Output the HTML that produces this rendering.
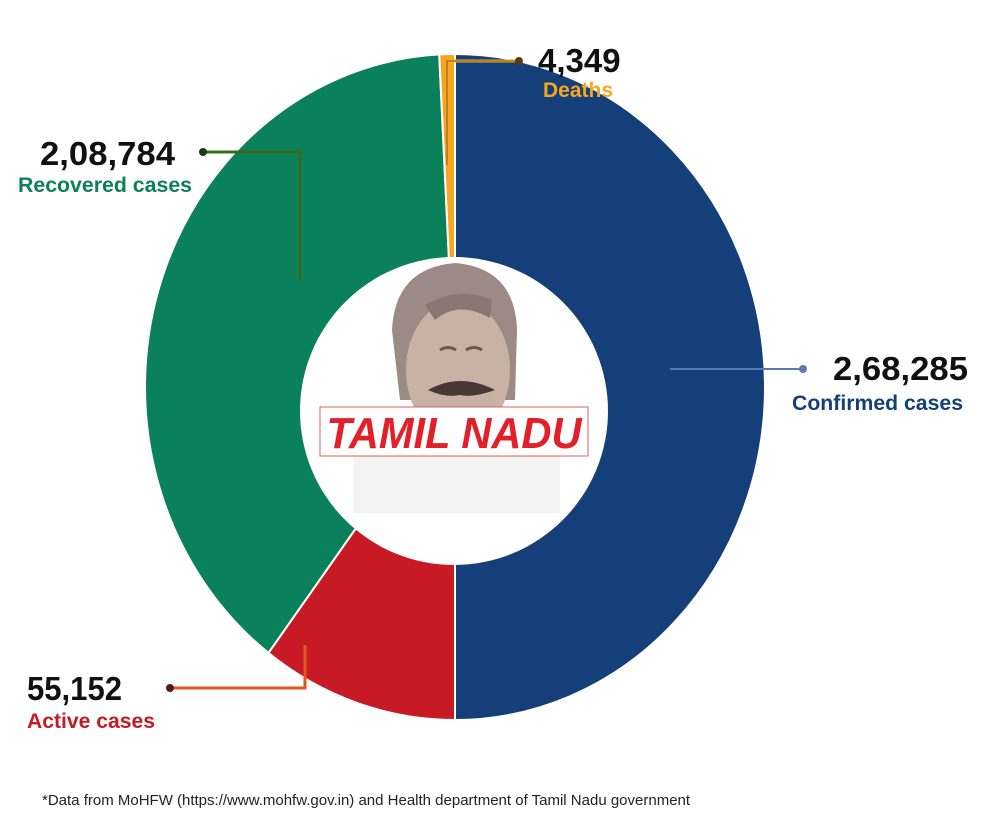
<!DOCTYPE html>
<html><head><meta charset="utf-8"><style>
body{margin:0;background:#fff;}
svg{display:block;font-family:"Liberation Sans",Arial,sans-serif;}
</style></head><body>
<svg width="1000" height="828" viewBox="0 0 1000 828">
<g id="slices"></g>
<circle cx="454" cy="411" r="154" fill="#fff"/>
<g>
  <rect x="354" y="455" width="206" height="58" fill="#f4f3f4"/>
  <path d="M392 330 Q395 268 455 263 Q515 268 517 330 L515 400 L400 400 Z" fill="#9c8a86"/>
  <ellipse cx="458" cy="370" rx="52" ry="70" fill="#c9b1a5"/>
  <path d="M435 320 Q458 300 490 318 L492 300 Q460 285 425 305Z" fill="#8a7672"/>
  <path d="M440 350 Q448 345 456 350 M466 350 Q474 345 482 350" stroke="#6a5652" stroke-width="3" fill="none"/>
  <path d="M428 390 Q460 372 495 390 Q472 398 460 395 Q445 398 428 390Z" fill="#4a3634"/>
  <rect x="320" y="407" width="268" height="49" fill="#fff" stroke="#e06060" stroke-width="1"/>
  <text x="454" y="448" text-anchor="middle" font-size="44" font-weight="bold" font-style="italic" fill="#e3202a" textLength="255" lengthAdjust="spacingAndGlyphs">TAMIL NADU</text>
</g>
<g>
  <polyline points="447,165 447,61 519,61" fill="none" stroke="#f5a623" stroke-width="3"/>
  <polyline points="447,165 447,61 519,61" fill="none" stroke="#6b4a10" stroke-width="0.8"/>
  <circle cx="519" cy="61" r="4" fill="#5a3a10"/>
  <text x="538" y="72" font-size="33" font-weight="bold" fill="#111">4,349</text>
  <text x="543" y="97" font-size="21" font-weight="bold" fill="#f5a623">Deaths</text>
</g>
<g>
  <polyline points="300,280 300,152 203,152" fill="none" stroke="#3a6b18" stroke-width="3"/>
  <circle cx="203" cy="152" r="4" fill="#1d3a0c"/>
  <text x="40" y="165" font-size="33" font-weight="bold" fill="#111" textLength="135" lengthAdjust="spacingAndGlyphs">2,08,784</text>
  <text x="18" y="192" font-size="21" font-weight="bold" fill="#0b815b" textLength="174" lengthAdjust="spacingAndGlyphs">Recovered cases</text>
</g>
<g>
  <line x1="670" y1="369" x2="803" y2="369" stroke="#5a7ab8" stroke-width="2"/>
  <circle cx="803" cy="369" r="4" fill="#5a7ab8"/>
  <text x="833" y="380" font-size="33" font-weight="bold" fill="#111" textLength="135" lengthAdjust="spacingAndGlyphs">2,68,285</text>
  <text x="792" y="410" font-size="21" font-weight="bold" fill="#153f78" textLength="171" lengthAdjust="spacingAndGlyphs">Confirmed cases</text>
</g>
<g>
  <polyline points="305,645 305,688 170,688" fill="none" stroke="#e05a1a" stroke-width="3"/>
  <circle cx="170" cy="688" r="4" fill="#5a1a0a"/>
  <text x="27" y="700" font-size="33" font-weight="bold" fill="#111" textLength="95" lengthAdjust="spacingAndGlyphs">55,152</text>
  <text x="27" y="728" font-size="21" font-weight="bold" fill="#c71a24" textLength="128" lengthAdjust="spacingAndGlyphs">Active cases</text>
</g>
<text x="42" y="805" font-size="15" fill="#222">*Data from MoHFW (https://www.mohfw.gov.in) and Health department of Tamil Nadu government</text>
</svg>
<script>
const categories=["Confirmed cases","Active cases","Recovered cases","Deaths"];
const values=[268285,55152,208784,4349];
const colors=["#153f78","#c71a24","#0b815b","#f5a623"];
const cx=455,cy=387,rxO=310,ryO=333;
const g=document.getElementById('slices');
const total=values.reduce((a,b)=>a+b,0);
function pt(a,rx,ry){return [cx+rx*Math.sin(a),cy-ry*Math.cos(a)];}
let a0=0;
values.forEach((v,i)=>{
  const a1=a0+v/total*2*Math.PI;
  const large=(a1-a0)>Math.PI?1:0;
  const p1=pt(a0,rxO,ryO),p2=pt(a1,rxO,ryO);
  const p=document.createElementNS('http://www.w3.org/2000/svg','path');
  p.setAttribute('d',`M${cx},${cy} L${p1[0]},${p1[1]} A${rxO},${ryO} 0 ${large} 1 ${p2[0]},${p2[1]} Z`);
  p.setAttribute('fill',colors[i]);
  p.setAttribute('stroke','#fff');
  p.setAttribute('stroke-width','2');
  
  
  g.appendChild(p);
  a0=a1;
});
</script>
</body></html>
